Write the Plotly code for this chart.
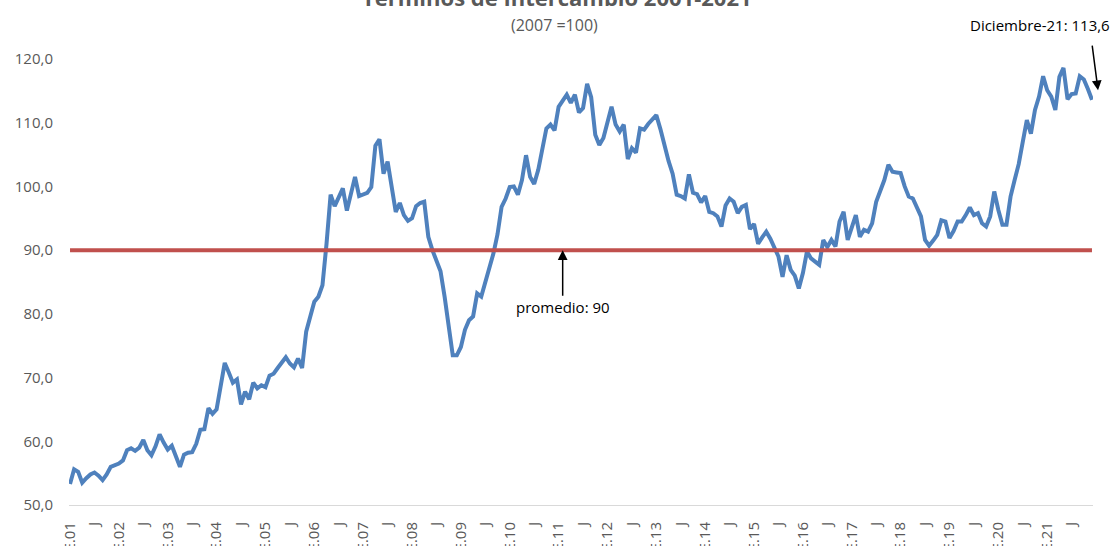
import plotly.graph_objects as go

# Monthly terms-of-trade index, Jan-2001 .. Dec-2021 (2007=100)
v2001 = [53.3, 55.6, 55.2, 53.5, 54.2, 54.8, 55.1, 54.6, 53.9, 54.8, 56.0, 56.3]
v2002 = [56.5, 57.0, 58.6, 58.9, 58.5, 59.0, 60.2, 58.6, 57.8, 59.2, 61.1, 59.8]
v2003 = [58.7, 59.3, 57.5, 56.0, 57.9, 58.2, 58.3, 59.6, 61.8, 61.9, 65.2, 64.3]
v2004 = [65.0, 68.5, 72.3, 70.8, 69.2, 69.7, 65.8, 67.8, 66.6, 69.2, 68.3, 68.8]
v2005 = [68.5, 70.3, 70.6, 71.5, 72.3, 73.2, 72.2, 71.6, 73.0, 71.5, 77.2, 79.6]
v2006 = [81.9, 82.7, 84.5, 91.0, 98.7, 96.9, 98.3, 99.7, 96.2, 99.0, 101.5, 98.5]
v2007 = [98.8, 99.0, 99.9, 106.4, 107.4, 102.0, 103.9, 100.0, 96.0, 97.4, 95.5, 94.6]
v2008 = [95.0, 96.9, 97.4, 97.6, 92.1, 90.0, 88.2, 86.7, 82.7, 78.5, 73.5, 73.5]
v2009 = [74.8, 77.5, 79.0, 79.6, 83.2, 82.7, 84.8, 86.9, 89.5, 92.5, 96.8, 98.1]
v2010 = [99.9, 100.0, 98.7, 101.0, 104.9, 101.5, 100.4, 102.6, 105.7, 109.1, 109.7, 108.8]
v2011 = [112.5, 113.5, 114.4, 113.1, 114.4, 111.6, 112.3, 116.1, 114.0, 108.1, 106.5, 107.6]
v2012 = [110.0, 112.5, 109.7, 108.6, 109.7, 104.3, 106.0, 105.3, 109.1, 108.9, 109.8, 110.5]
v2013 = [111.2, 109.0, 106.2, 104.0, 102.0, 98.7, 98.5, 98.1, 101.9, 99.0, 98.8, 97.5]
v2014 = [98.5, 96.0, 95.8, 95.3, 93.7, 97.0, 98.1, 97.6, 95.8, 96.8, 97.1, 93.3]
v2015 = [94.1, 91.0, 92.0, 92.9, 91.8, 90.5, 89.0, 85.8, 89.2, 86.9, 86.0, 84.0]
v2016 = [86.4, 89.8, 88.7, 88.2, 87.7, 91.6, 90.5, 91.6, 90.6, 94.5, 96.0, 91.6]
v2017 = [93.5, 95.5, 92.1, 93.2, 92.9, 94.2, 97.6, 99.5, 101.0, 103.4, 102.3, 102.2]
v2018 = [102.1, 100.0, 98.4, 98.1, 96.8, 95.3, 91.6, 90.7, 91.5, 92.4, 94.7, 94.5]
v2019 = [91.9, 93.0, 94.5, 94.5, 95.5, 96.7, 95.5, 95.8, 94.2, 93.7, 95.3, 99.2]
v2020 = [96.3, 94.0, 94.0, 98.4, 101.0, 103.5, 107.0, 110.4, 108.3, 112.0, 114.1, 117.3]
v2021 = [115.1, 114.1, 112.0, 117.2, 118.6, 113.7, 114.5, 114.6, 117.3, 116.8, 115.3, 113.6]

years = list(range(2001, 2022))
promedio = 90
last_label = "Diciembre-21: 113,6"

values = (v2001 + v2002 + v2003 + v2004 + v2005 + v2006 + v2007 + v2008 + v2009 + v2010 +
          v2011 + v2012 + v2013 + v2014 + v2015 + v2016 + v2017 + v2018 + v2019 + v2020 + v2021)
x = list(range(len(values)))

tickvals = []
ticktext = []
for k, yr in enumerate(years):
    tickvals += [12 * k, 12 * k + 6]
    ticktext += ["E.%02d" % (yr % 100), "J"]

FONT = "Open Sans"
GREY = "#595959"

fig = go.Figure()
fig.add_trace(go.Scatter(x=x, y=values, mode="lines",
                         line=dict(color="#4F81BD", width=4), hoverinfo="skip"))
fig.add_trace(go.Scatter(x=x, y=[promedio] * len(x), mode="lines",
                         line=dict(color="#C0504D", width=4), hoverinfo="skip"))

fig.update_layout(
    width=1115, height=546,
    margin=dict(l=69, r=22, t=59, b=41, autoexpand=False),
    paper_bgcolor="white", plot_bgcolor="white",
    showlegend=False,
    separators=",.",
    font=dict(family=FONT, color=GREY),
)
fig.update_xaxes(range=[-0.25, len(values) - 0.75], tickvals=tickvals, ticktext=ticktext,
                 tickangle=-90, showgrid=False, zeroline=False, showline=True,
                 linecolor="#D9D9D9", linewidth=1, ticks="", automargin=False,
                 ticklabelstandoff=10,
                 tickfont=dict(size=15, color=GREY, family=FONT))
fig.update_yaxes(range=[50, 120], dtick=10, tickformat=".1f", showgrid=False,
                 zeroline=False, showline=False, ticks="", automargin=False,
                 ticklabelstandoff=15,
                 tickfont=dict(size=15, color=GREY, family=FONT))

# Title (partially cut at top) and subtitle
fig.add_annotation(text="<b>Términos de Intercambio 2001-2021</b>", xref="paper", yref="paper",
                   x=0.477, y=1.138, xanchor="center", yanchor="middle", showarrow=False,
                   font=dict(size=22, color=GREY, family=FONT))
fig.add_annotation(text="(2007 =100)", xref="paper", yref="paper",
                   x=0.474, y=1.076, xanchor="center", yanchor="middle", showarrow=False,
                   font=dict(size=16, color=GREY, family=FONT))

# promedio annotation
fig.add_annotation(text="promedio: 90", x=121, y=promedio, xref="x", yref="y",
                   showarrow=True, ax=0, ay=57, arrowhead=2, arrowsize=1.3,
                   arrowwidth=1.5, arrowcolor="black",
                   font=dict(size=15, color="black", family=FONT))

# last value annotation
fig.add_annotation(text="", xref="paper", yref="paper", x=1.0049, y=0.93,
                   showarrow=True, ax=-6, ay=-46, arrowhead=2, arrowsize=1.3,
                   arrowwidth=1.5, arrowcolor="black")
fig.add_annotation(text=last_label, xref="paper", yref="paper", x=1.0186, y=1.076,
                   xanchor="right", yanchor="middle", showarrow=False,
                   font=dict(size=15, color="black", family=FONT))

fig.write_html("out.html", config={"displayModeBar": False},
               post_script="document.body.style.margin='0';")
